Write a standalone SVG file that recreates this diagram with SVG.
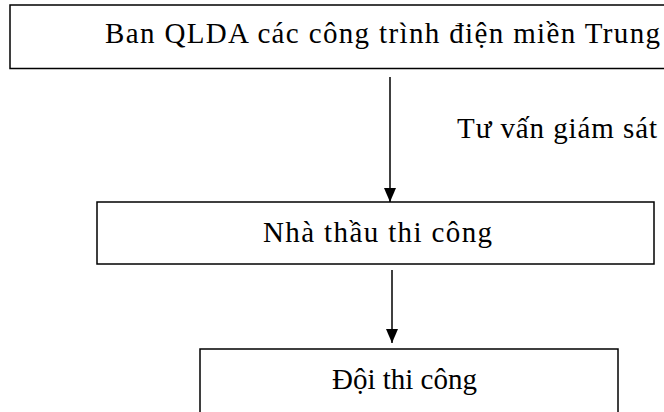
<svg xmlns="http://www.w3.org/2000/svg" width="664" height="412" viewBox="0 0 664 412">
<defs>
<marker id="ah" markerWidth="14" markerHeight="12" refX="14" refY="6" orient="auto" markerUnits="userSpaceOnUse">
<path d="M0,0 L14,6 L0,12 Z" fill="#000"/>
</marker>
<style>
.box{fill:#fff;stroke:#000;stroke-width:1.5}
.t{font-family:'Liberation Serif','Times New Roman','DejaVu Serif',serif;font-size:29px;fill:#000}
.c{stroke:#000;stroke-width:1.5;fill:none}
</style>
</defs>
<rect width="664" height="412" fill="#fff"/>
<g id="n1">
<rect class="box" x="10" y="5" width="670" height="63.5"/>
<text class="t" x="105" y="43" textLength="555" lengthAdjust="spacing">Ban QLDA các công trình điện miền Trung</text>
</g>
<g id="n2">
<rect class="box" x="97" y="202" width="557" height="62"/>
<text class="t" x="263" y="242" textLength="229" lengthAdjust="spacing">Nhà thầu thi công</text>
</g>
<g id="n3">
<rect class="box" x="200" y="349" width="418" height="80"/>
<text class="t" x="332" y="389">Đội thi công</text>
</g>
<g id="connectors">
<line class="c" x1="390" y1="77" x2="390" y2="202" marker-end="url(#ah)"/>
<line class="c" x1="392" y1="270" x2="392" y2="343" marker-end="url(#ah)"/>
<text class="t" x="457" y="138" textLength="200" lengthAdjust="spacing">Tư vấn giám sát</text>
</g>
</svg>
